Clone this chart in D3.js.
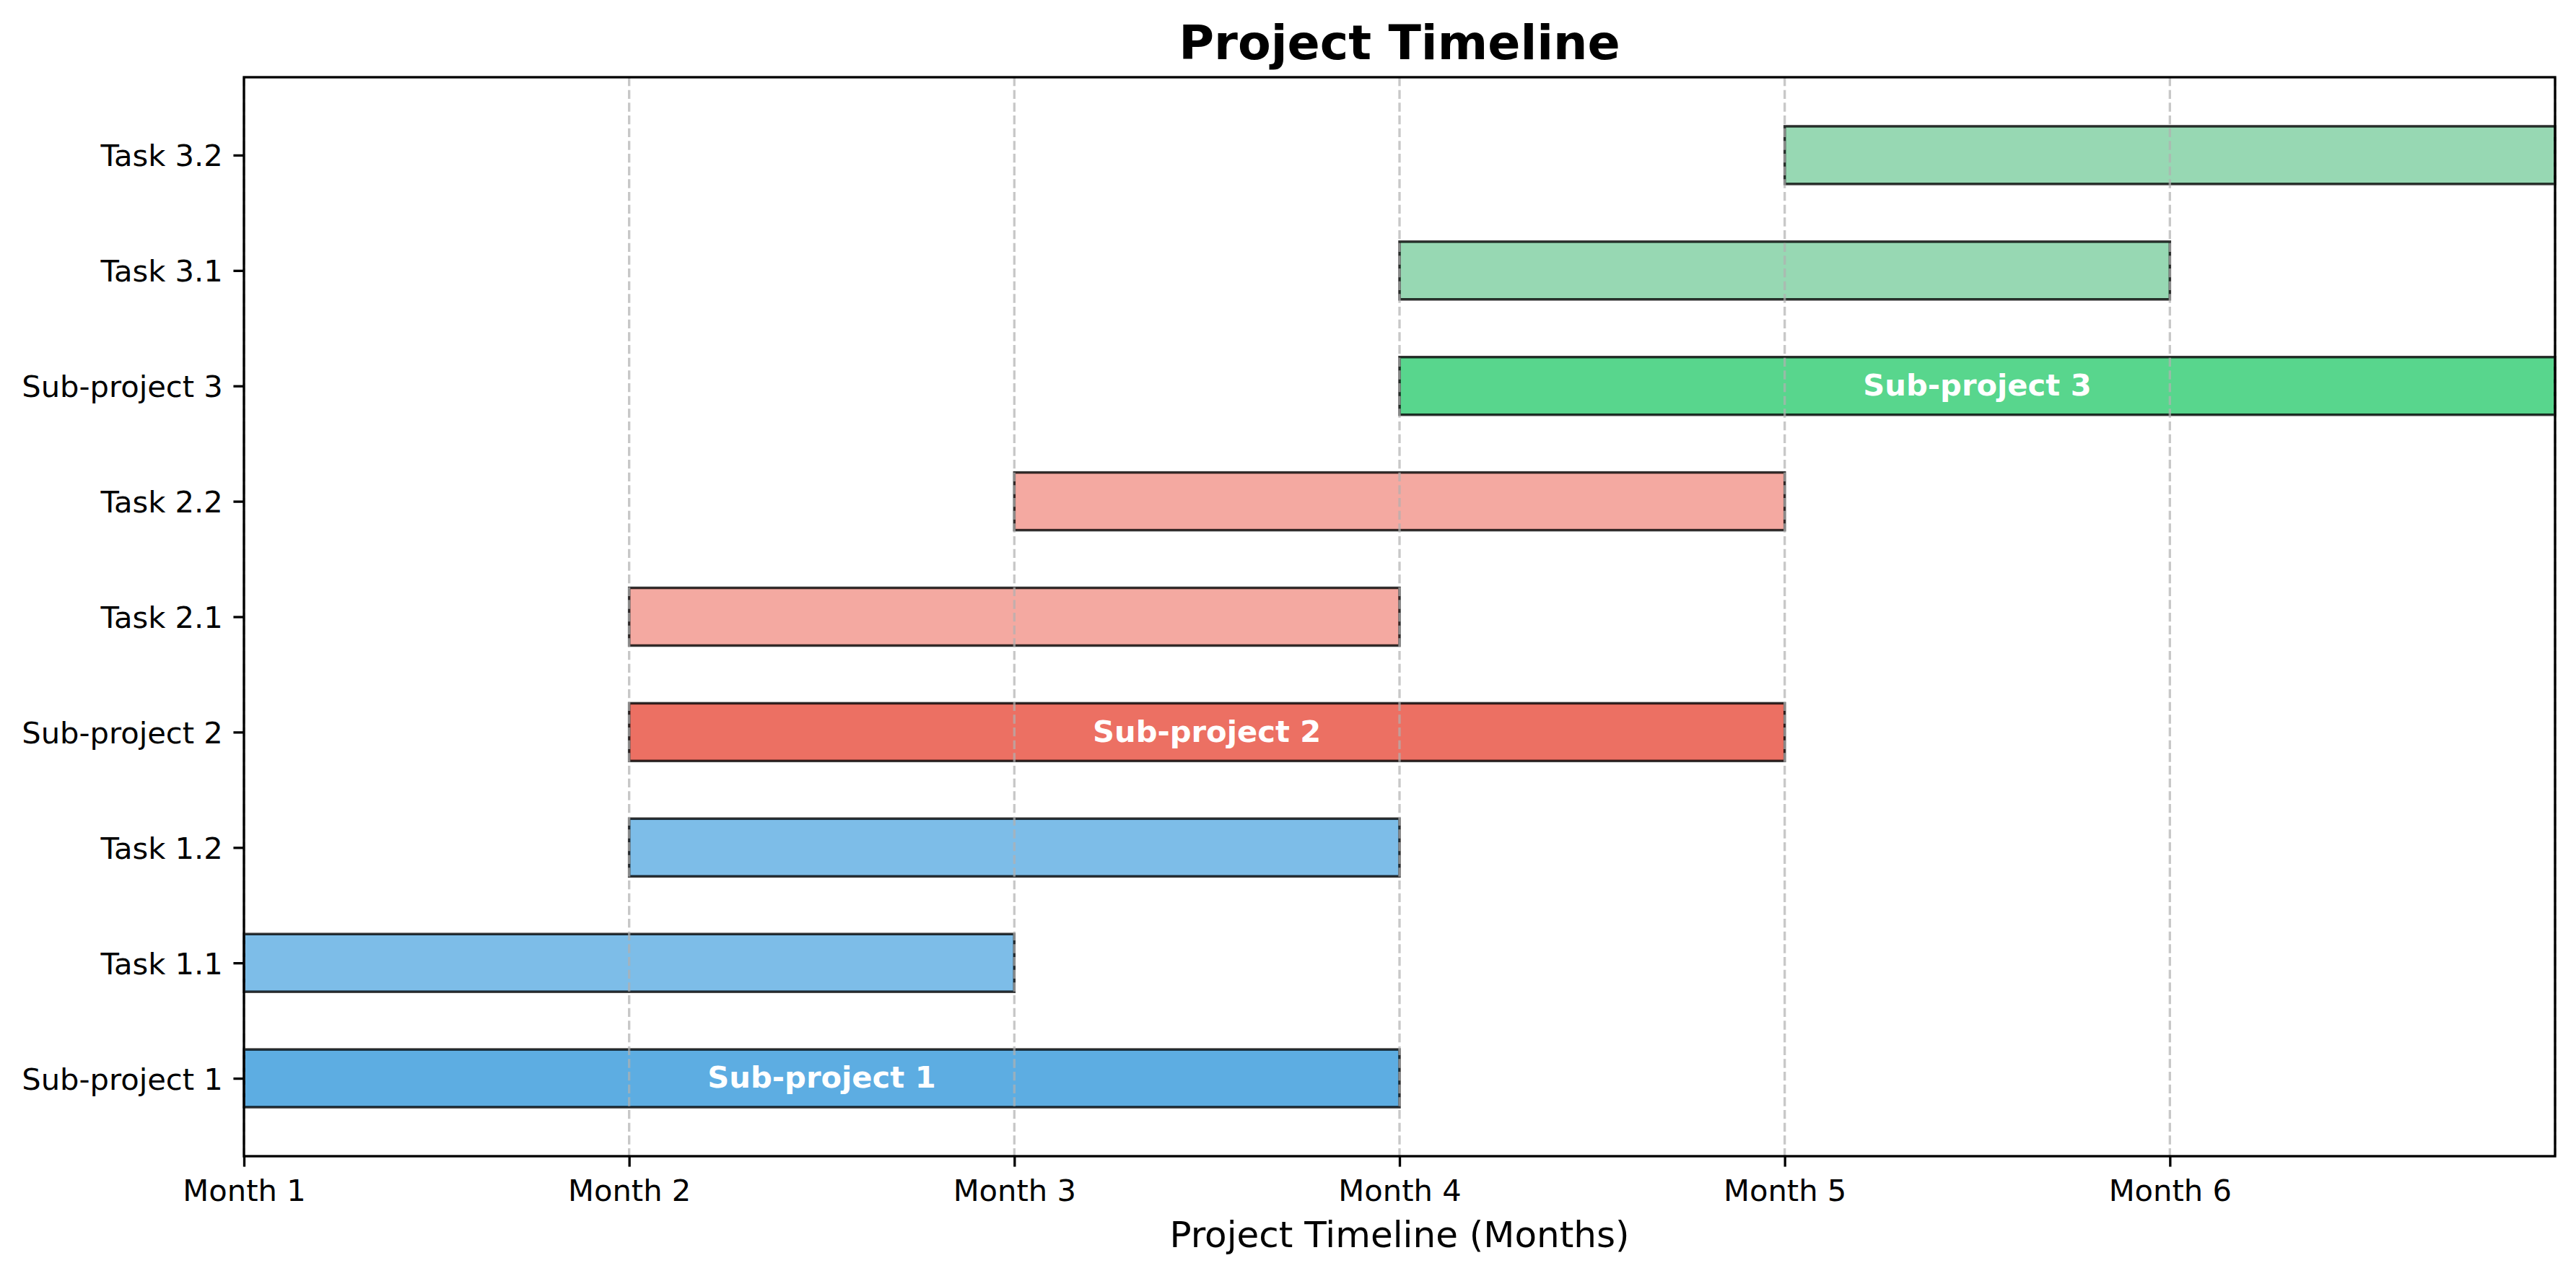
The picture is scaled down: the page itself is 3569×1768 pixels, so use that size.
<!DOCTYPE html>
<html>
<head>
<meta charset="utf-8">
<script src="https://cdn.jsdelivr.net/npm/d3@7"></script>
<style>
  html, body { margin: 0; padding: 0; background: #ffffff; }
  svg { display: block; font-family: "DejaVu Sans", sans-serif; }
</style>
</head>
<body>
<script>
// ---- Data ----
const categories = ["Sub-project 1", "Task 1.1", "Task 1.2", "Sub-project 2", "Task 2.1", "Task 2.2", "Sub-project 3", "Task 3.1", "Task 3.2"];
const startMonths = [0, 0, 1, 1, 1, 2, 3, 3, 4];
const durations   = [3, 2, 2, 3, 2, 2, 3, 2, 2];
const isSubProject = [true, false, false, true, false, false, true, false, false];
const barColors = ["#5DADE2", "#7DBDE8", "#7DBDE8", "#EC7063", "#F4A9A1", "#F4A9A1", "#58D68D", "#97D8B3", "#97D8B3"];
const tickValues = [0, 1, 2, 3, 4, 5];
const tickLabels = ["Month 1", "Month 2", "Month 3", "Month 4", "Month 5", "Month 6"];
const titleText = "Project Timeline";
const xLabelText = "Project Timeline (Months)";

// ---- Layout ----
const W = 3569, H = 1768;
const pL = 338, pR = 3540, pT = 107, pB = 1602;
const pt = 300 / 72;

const svg = d3.select("body").append("svg").attr("width", W).attr("height", H);
svg.append("rect").attr("width", W).attr("height", H).attr("fill", "#ffffff");

const x = d3.scaleLinear().domain([0, 6]).range([pL, pR]);
const y = d3.scaleLinear().domain([-0.675, categories.length - 1 + 0.675]).range([pB, pT]);

const data = categories.map((c, i) => ({ name: c, i, start: startMonths[i], dur: durations[i], sub: isSubProject[i], color: barColors[i] }));

// ---- Bars ----
svg.append("g").selectAll("rect").data(data).enter().append("rect")
  .attr("x", d => x(d.start))
  .attr("width", d => x(d.start + d.dur) - x(d.start))
  .attr("y", d => y(d.i + 0.25))
  .attr("height", d => y(d.i - 0.25) - y(d.i + 0.25))
  .attr("fill", d => d.color)
  .attr("stroke", "#000")
  .attr("stroke-opacity", 0.8)
  .attr("stroke-width", 3.5);

// ---- Grid (vertical dashed, drawn over bars) ----
svg.append("g").selectAll("line").data(tickValues.concat([6])).enter().append("line")
  .attr("x1", d => x(d)).attr("x2", d => x(d))
  .attr("y1", pT).attr("y2", pB)
  .attr("stroke", "#b0b0b0")
  .attr("stroke-opacity", 0.7)
  .attr("stroke-width", 0.8 * pt)
  .attr("stroke-dasharray", `${3.7 * 0.8 * pt},${1.6 * 0.8 * pt}`);

// ---- Sub-project labels ----
svg.append("g").selectAll("text").data(data.filter(d => d.sub)).enter().append("text")
  .attr("x", d => x(d.start + d.dur / 2))
  .attr("y", d => y(d.i))
  .attr("dy", "0.32em")
  .attr("text-anchor", "middle")
  .attr("fill", "#ffffff")
  .attr("font-weight", "bold")
  .attr("font-size", 10 * pt)
  .text(d => d.name);

// ---- Axes ----
const xAxis = d3.axisBottom(x)
  .tickValues(tickValues)
  .tickFormat((d, i) => tickLabels[i])
  .tickSize(3.5 * pt)
  .tickPadding(3.5 * pt + 3);
const gx = svg.append("g").attr("transform", `translate(0,${pB})`).call(xAxis);
gx.select(".domain").remove();
gx.selectAll(".tick line").attr("stroke", "#000").attr("stroke-width", 0.8 * pt);
gx.selectAll(".tick text").attr("font-size", 10 * pt).attr("fill", "#000").attr("font-family", "DejaVu Sans");

const yAxis = d3.axisLeft(y)
  .tickValues(d3.range(categories.length))
  .tickFormat(i => categories[i])
  .tickSize(3.5 * pt)
  .tickPadding(3.5 * pt);
const gy = svg.append("g").attr("transform", `translate(${pL},0)`).call(yAxis);
gy.select(".domain").remove();
gy.selectAll(".tick line").attr("stroke", "#000").attr("stroke-width", 0.8 * pt);
gy.selectAll(".tick text").attr("font-size", 10 * pt).attr("fill", "#000").attr("font-family", "DejaVu Sans").attr("dy", "0.36em");

// ---- Spines ----
svg.append("rect")
  .attr("x", pL).attr("y", pT)
  .attr("width", pR - pL).attr("height", pB - pT)
  .attr("fill", "none").attr("stroke", "#000").attr("stroke-width", 0.8 * pt);

// ---- Title & label ----
svg.append("text")
  .attr("x", (pL + pR) / 2).attr("y", 82)
  .attr("text-anchor", "middle")
  .attr("font-size", 16 * pt).attr("font-weight", "bold")
  .text(titleText);

svg.append("text")
  .attr("x", (pL + pR) / 2).attr("y", 1728)
  .attr("text-anchor", "middle")
  .attr("font-size", 12 * pt)
  .text(xLabelText);
</script>
</body>
</html>
